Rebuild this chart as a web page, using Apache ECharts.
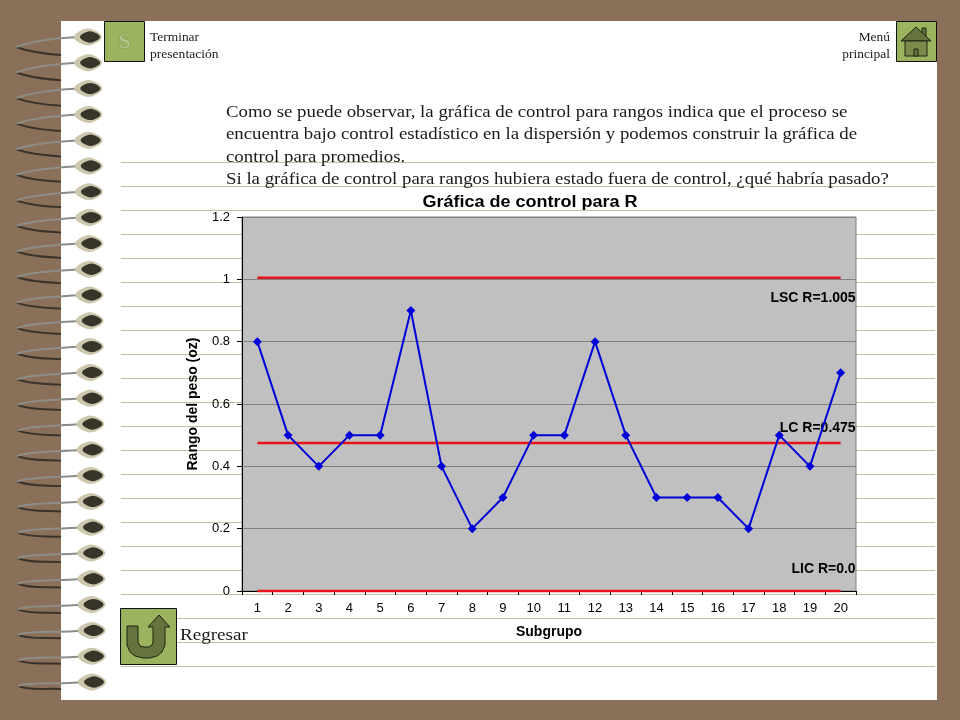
<!DOCTYPE html>
<html>
<head>
<meta charset="utf-8">
<title>Gráfica de control para R</title>
<script src="https://cdn.jsdelivr.net/npm/echarts@6/dist/echarts.min.js"></script>
<style>
  html, body { margin: 0; padding: 0; background: #8b7059; }
  #chart { width: 960px; height: 720px; }
</style>
</head>
<body>
<div id="chart"></div>
<script>
// data
var subgrupos = ['1','2','3','4','5','6','7','8','9','10','11','12','13','14','15','16','17','18','19','20'];
var rangos = [0.8,0.5,0.4,0.5,0.5,0.9,0.4,0.2,0.3,0.5,0.5,0.8,0.5,0.3,0.3,0.3,0.2,0.5,0.4,0.7];
var lsc = [1.005,1.005,1.005,1.005,1.005,1.005,1.005,1.005,1.005,1.005,1.005,1.005,1.005,1.005,1.005,1.005,1.005,1.005,1.005,1.005];
var lc = [0.475,0.475,0.475,0.475,0.475,0.475,0.475,0.475,0.475,0.475,0.475,0.475,0.475,0.475,0.475,0.475,0.475,0.475,0.475,0.475];
var lic = [0,0,0,0,0,0,0,0,0,0,0,0,0,0,0,0,0,0,0,0];
var parrafo = [
  'Como se puede observar, la gráfica de control para rangos indica que el proceso se',
  'encuentra bajo control estadístico en la dispersión y podemos construir la gráfica de',
  'control para promedios.',
  'Si la gráfica de control para rangos hubiera estado fuera de control, ¿qué habría pasado?'
];

var serif = '"Liberation Serif", serif';
var sans = '"Liberation Sans", Arial, sans-serif';
var verde = '#9bb35f';
var oscuro = '#66733f';

// scaleX: the text of the slide is stretched wider than the font
function txt(x, y, text, size, align, scaleX) {
  return {
    type: 'text', z: 5, x: x, y: y, scaleX: scaleX || 1,
    style: { text: text, font: size + 'px ' + serif, fill: '#1a1a1a', textAlign: align || 'left', textVerticalAlign: 'middle' }
  };
}
function boton(x, y, w, h) {
  return { type: 'rect', z: 5, shape: { x: x, y: y, width: w, height: h }, style: { fill: verde, stroke: '#111', lineWidth: 1 } };
}
function almendra(cx, cy, rx, ry, fill) {
  return {
    type: 'polygon', z: -17,
    shape: { points: [[cx - rx, cy], [cx - rx * 0.35, cy - ry], [cx + rx * 0.35, cy - ry], [cx + rx, cy], [cx + rx * 0.35, cy + ry], [cx - rx * 0.35, cy + ry]], smooth: 0.4 },
    style: { fill: fill }
  };
}

var deco = [];
// pagina
deco.push({ type: 'rect', z: -20, shape: { x: 61, y: 21, width: 876, height: 679 }, style: { fill: '#fff' } });
// renglones
for (var y = 162; y <= 666; y += 24) {
  deco.push({ type: 'line', z: -19, shape: { x1: 121, y1: y + 0.5, x2: 935, y2: y + 0.5 }, style: { stroke: '#c4c1a0', lineWidth: 1 } });
}
// espiral
for (var i = 0; i < 26; i++) {
  var cy = 37 + i * 25.8;
  var t = i / 25;
  var cx = 88 + 4 * t;
  var punta = cy + 10 - 6 * t;
  var fin = cy + 18 - 11 * t;
  deco.push({
    type: 'bezierCurve', z: -18,
    shape: { x1: 16 + 2 * t, y1: punta, cpx1: 30, cpy1: punta + 5, cpx2: 45, cpy2: fin - 1, x2: 61, y2: fin },
    style: { stroke: '#3a332b', lineWidth: 2, fill: null }
  });
  deco.push({
    type: 'bezierCurve', z: -18,
    shape: { x1: 16 + 2 * t, y1: punta, cpx1: 30, cpy1: punta - 5, cpx2: 55, cpy2: cy + 1 + 2 * t, x2: cx - 8, y2: cy },
    style: { stroke: '#8d8d88', lineWidth: 2, fill: null }
  });
  deco.push(almendra(cx, cy, 14, 7.5, '#cdc8ad'));
  deco.push(almendra(cx + 2, cy, 10, 5, '#37342a'));
}
// boton S
deco.push(boton(104.5, 21.5, 40, 40));
deco.push({ type: 'text', z: 6, x: 124.5, y: 42, style: { text: 'S', font: 'bold 22px ' + serif, fill: '#b5c48a', stroke: '#7f9250', lineWidth: 1, textAlign: 'center', textVerticalAlign: 'middle' } });
deco.push(txt(150, 38, 'Terminar', 12, 'left', 1.12));
deco.push(txt(150, 55, 'presentación', 12, 'left', 1.13));
// boton menu
deco.push(boton(896.5, 21.5, 40, 40));
deco.push({ type: 'rect', z: 6, shape: { x: 922, y: 28, width: 4, height: 9 }, style: { fill: oscuro, stroke: '#1c2410', lineWidth: 1 } });
deco.push({ type: 'polygon', z: 6, shape: { points: [[901, 41], [916, 27], [931, 41]] }, style: { fill: oscuro, stroke: '#1c2410', lineWidth: 1 } });
deco.push({ type: 'rect', z: 6, shape: { x: 905, y: 41, width: 22, height: 15 }, style: { fill: '#7c8a4c', stroke: '#1c2410', lineWidth: 1 } });
deco.push({ type: 'rect', z: 6, shape: { x: 914, y: 49, width: 4, height: 7 }, style: { fill: oscuro, stroke: '#1c2410', lineWidth: 1 } });
deco.push(txt(890, 38, 'Menú', 12, 'right', 1.12));
deco.push(txt(890, 55, 'principal', 12, 'right', 1.12));
// boton regresar
deco.push(boton(120.5, 608.5, 56, 56));
deco.push({
  type: 'polygon', z: 6,
  shape: { points: [
    [127, 626], [138, 626], [138, 642], [140, 646], [144, 647], [149, 647], [152, 645], [153, 642],
    [153, 627], [148, 627], [159, 615], [170, 627], [165, 627], [165, 645], [162, 652], [157, 656], [150, 658],
    [143, 658], [135, 656], [130, 652], [127, 645]
  ] },
  style: { fill: oscuro, stroke: '#1c2410', lineWidth: 1 }
});
deco.push(txt(180, 635, 'Regresar', 17.5, 'left', 1.09));
// parrafo
var lineasY = [112, 134, 157, 179];
parrafo.forEach(function (l, k) { deco.push(txt(226, lineasY[k], l, 17.5, 'left', 1.075)); });
// titulo del grafico
deco.push({
  type: 'text', z: 5, x: 530, y: 203, scaleX: 1.125,
  style: { text: 'Gráfica de control para R', font: 'bold 16px ' + sans, fill: '#000', textAlign: 'center', textVerticalAlign: 'middle' }
});

var limite = function (nombre, datos, texto, dy) {
  return {
    name: nombre, type: 'line', data: datos, symbol: 'none', clip: false, z: 3, silent: true,
    lineStyle: { color: '#e8131b', width: 2.5 },
    endLabel: { show: true, formatter: texto, color: '#000', fontFamily: sans, fontWeight: 'bold', fontSize: 14, align: 'right', offset: [15, dy], distance: 0 }
  };
};

var chart = echarts.init(document.getElementById('chart'), null, { renderer: 'canvas' });
chart.setOption({
  animation: false,
  backgroundColor: 'transparent',
  graphic: { elements: deco },
  grid: { left: 242, right: 104, top: 217, bottom: 129, show: true, backgroundColor: '#c0c0c0', borderColor: '#808080', borderWidth: 1 },
  xAxis: {
    type: 'category', data: subgrupos, boundaryGap: true,
    name: 'Subgrupo', nameLocation: 'middle', nameGap: 34,
    nameTextStyle: { fontFamily: sans, fontWeight: 'bold', fontSize: 14, color: '#000' },
    axisLine: { lineStyle: { color: '#000', width: 1 } },
    axisTick: { show: true, length: 4, lineStyle: { color: '#000' } },
    axisLabel: { interval: 0, color: '#000', fontFamily: sans, fontSize: 13, margin: 11 },
    splitLine: { show: false }
  },
  yAxis: {
    type: 'value', min: 0, max: 1.2, interval: 0.2,
    name: 'Rango del peso (oz)', nameLocation: 'middle', nameGap: 42, nameRotate: 90,
    nameTextStyle: { fontFamily: sans, fontWeight: 'bold', fontSize: 14, color: '#000' },
    axisLine: { show: true, lineStyle: { color: '#000', width: 1 } },
    axisTick: { show: true, length: 5, lineStyle: { color: '#000' } },
    axisLabel: { color: '#000', fontFamily: sans, fontSize: 13, margin: 12, formatter: function (v) { return String(+v.toFixed(1)); } },
    splitLine: { show: true, lineStyle: { color: '#808080', width: 1 } }
  },
  series: [
    limite('LSC', lsc, 'LSC R=1.005', 20),
    limite('LC', lc, 'LC R=0.475', -15),
    limite('LIC', lic, 'LIC R=0.0', -22),
    {
      name: 'Rango', type: 'line', data: rangos, z: 4, silent: true,
      symbol: 'diamond', symbolSize: 9,
      itemStyle: { color: '#0000d8' },
      lineStyle: { color: '#0000d8', width: 2 }
    }
  ]
});
</script>
</body>
</html>
